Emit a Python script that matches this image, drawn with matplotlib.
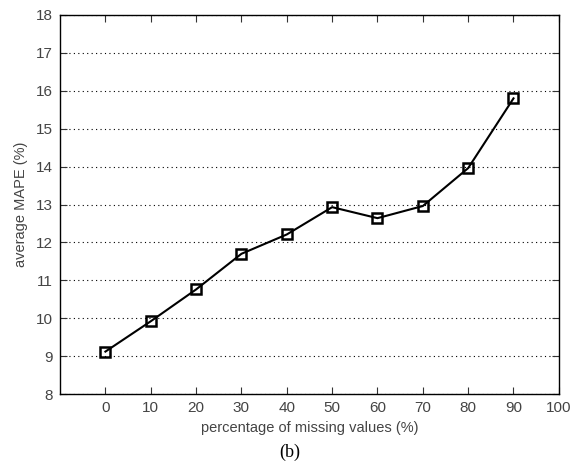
import matplotlib
matplotlib.use('Agg')
import matplotlib.pyplot as plt

# average MAPE for each percentage of missing values
missing_pct = [0, 10, 20, 30, 40, 50, 60, 70, 80, 90]
avg_mape = [9.12, 9.92, 10.76, 11.70, 12.21, 12.93, 12.64, 12.96, 13.96, 15.80]

x_ticks = [0, 10, 20, 30, 40, 50, 60, 70, 80, 90, 100]
y_ticks = [8, 9, 10, 11, 12, 13, 14, 15, 16, 17, 18]

plt.rcParams['font.family'] = ['Liberation Sans', 'DejaVu Sans']

fig = plt.figure(figsize=(5.72, 4.68), dpi=100)
ax = fig.add_axes([0.105, 0.158, 0.872, 0.81])

ax.plot(missing_pct, avg_mape, color='black', linewidth=1.5,
        marker='s', markersize=7.5, markerfacecolor='none',
        markeredgecolor='black', markeredgewidth=1.8)

ax.set_xlim(-10, 100)
ax.set_ylim(8, 18)
ax.set_xticks(x_ticks)
ax.set_yticks(y_ticks)

# dotted horizontal grid only
ax.yaxis.grid(True, linestyle=(0, (1, 3)), color='black', linewidth=0.8)
ax.set_axisbelow(True)

ax.tick_params(direction='in', top=True, right=True, length=5, pad=5,
               labelsize=11, colors='#333333', labelcolor='#444444')
for s in ax.spines.values():
    s.set_linewidth(1.0)

ax.set_xlabel('percentage of missing values (%)', fontsize=10.5, color='#444444', labelpad=4)
ax.set_ylabel('average MAPE (%)', fontsize=10.5, color='#444444', labelpad=6)

fig.text(0.507, 0.034, '(b)', fontsize=13, family='Liberation Serif',
         ha='center', va='center', color='black')

plt.savefig('out.png', dpi=100)
